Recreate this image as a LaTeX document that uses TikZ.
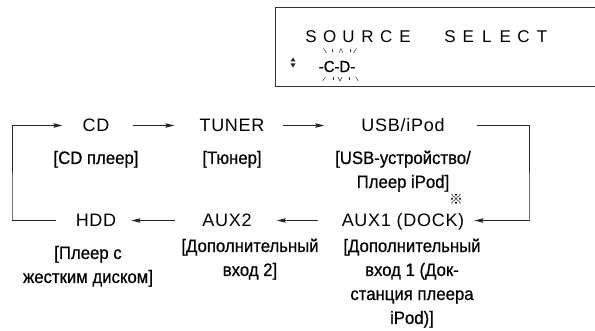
\documentclass[tikz,border=0pt]{standalone}
\usepackage{fontspec}
\setmainfont{Liberation Sans}
\newfontfamily\condfont[FakeStretch=0.93, FakeBold=0.6]{Liberation Sans}
\newfontfamily\widefont[LetterSpace=4]{Liberation Sans}
\newfontfamily\marksfont{Noto Sans CJK JP}
\usetikzlibrary{arrows.meta, positioning, calc}
\tikzset{>={Stealth[length=9pt,width=4.5pt,inset=1.5pt]}}

\begin{document}
\begin{tikzpicture}[
    x=1pt, y=-1pt,
    src/.style={font=\widefont\fontsize{18}{20}\selectfont, inner sep=0pt,
                text height=13pt, text depth=0pt, anchor=base},
    note/.style={font=\condfont\fontsize{18}{24}\selectfont, align=center,
                 inner sep=0pt, anchor=base},
    lcd/.style={font=\fontsize{17}{19}\selectfont, inner sep=0pt, anchor=base},
    flow/.style={->, line width=0.8pt, black!85},
    ray/.style={line width=0.5pt, black!80},
  ]
  \useasboundingbox (0,0) rectangle (595,331);

  % display window
  \draw[line width=0.9pt, black!80] (595,7) -- (275,7) -- (275,86) -- (595,86);
  \foreach \ch [count=\i from 0] in {S,O,U,R,C,E}
    \node[lcd] (srcl\i) at (311+18.8*\i,43) {\ch};
  \foreach \ch [count=\i from 0] in {S,E,L,E,C,T}
    \node[lcd] (sell\i) at (450+18.4*\i,43) {\ch};
  \fill[black!85] (290.5,61.5) -- (295.5,61.5) -- (293,57.5) -- cycle;
  \fill[black!85] (290.5,63.5) -- (295.5,63.5) -- (293,67.5) -- cycle;
  \node[font=\condfont\fontsize{16}{18}\selectfont, inner sep=0pt] (blink) at (337,66.5) {-C-D-};
  % blinking rays
  \draw[ray] (323.5,48) -- (326.5,53);
  \draw[ray] (332,49) -- (332,52.5);
  \draw[ray] (339,53) -- (341,48.5) -- (343,53);
  \draw[ray] (350,49) -- (350,52.5);
  \draw[ray] (356.5,48) -- (353.5,53);
  \draw[ray] (325.5,77) -- (322.5,81);
  \draw[ray] (333,77.5) -- (333,80.5);
  \draw[ray] (338,77) -- (340,81) -- (342,77);
  \draw[ray] (349,77.5) -- (349,80.5);
  \draw[ray] (355.5,77) -- (358.5,81);

  % sources
  \node[src] (cd)    at (96,132)  {CD};
  \node[src] (tuner) at (232,132) {TUNER};
  \node[src] (usb)   at (403,132) {USB/iPod};
  \node[src] (hdd)   at (96,227)  {HDD};
  \node[src] (aux2)  at (227,227) {AUX2};
  \node[src] (aux1)  at (403,227) {AUX1 (DOCK)};

  % notes (base = last line)
  \node[note] (cdnote)   at (96,164)  {[CD плеер]};
  \node[note] (tunnote)  at (232,164) {[Тюнер]};
  \node[note] (usbnote)  at (403,188) {[USB-устройство/\\Плеер iPod]};
  \node[note] (hddnote)  at (88,283)  {[Плеер с\\жестким диском]};
  \node[note] (aux2note) at (250,276) {[Дополнительный\\вход 2]};
  \node[note] (aux1note) at (412,324) {[Дополнительный\\вход 1 (Док-\\станция плеера\\iPod)]};
  \node[font=\marksfont\fontsize{14}{14}\selectfont, inner sep=0pt] (mark) at (456,199) {※};

  \coordinate (rc) at (529,220);
  \coordinate (lc) at (12,220);

  \draw[flow, shorten <=23pt, shorten >=25pt] (cd.east) -- (tuner.west);
  \draw[flow, shorten <=18pt, shorten >=37pt] (tuner.east) -- (usb.west);
  \draw[flow, shorten <=32pt, shorten >=10pt] (usb.east) -| (rc) |- (aux1.east);
  \draw[flow, shorten <=24pt, shorten >=25pt] (aux1.west) -- (aux2.east);
  \draw[flow, shorten <=27pt, shorten >=15pt] (aux2.west) -- (hdd.east);
  \draw[flow, shorten <=20pt, shorten >=20pt] (hdd.west) -| (lc) |- (cd.west);
\end{tikzpicture}
\end{document}
